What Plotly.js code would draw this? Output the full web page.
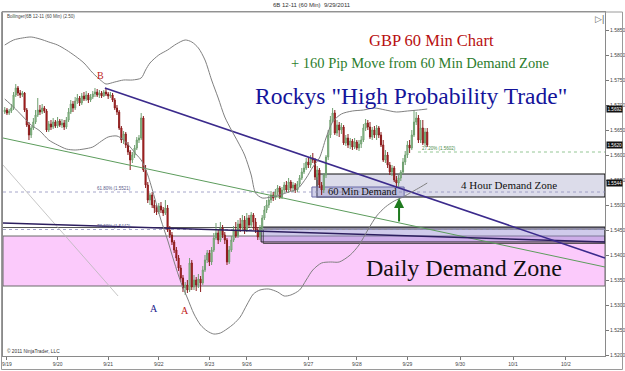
<!DOCTYPE html>
<html><head><meta charset="utf-8">
<script src="https://cdn.plot.ly/plotly-3.0.1.min.js"></script>
<style>html,body{margin:0;padding:0;background:#fff;overflow:hidden}#chart{width:625px;height:371px}</style>
</head><body><div id="chart"></div>
<script>
// ---- candle data (60 min bars, GB 12-11) ----
const open = [
1.5686,1.5690,1.5684,1.5688,1.5694,1.5720,1.5734,1.5724,1.5720,1.5724,
1.5690,1.5660,1.5640,1.5654,1.5666,1.5680,1.5690,1.5686,1.5694,1.5688,
1.5650,1.5662,1.5656,1.5666,1.5658,1.5668,1.5660,1.5664,1.5656,1.5670,
1.5686,1.5702,1.5694,1.5708,1.5714,1.5704,1.5718,1.5712,1.5720,1.5710,
1.5716,1.5722,1.5726,1.5720,1.5724,1.5718,1.5726,1.5722,1.5718,1.5720,
1.5710,1.5694,1.5686,1.5654,1.5630,1.5642,1.5620,1.5606,1.5590,1.5600,
1.5614,1.5630,1.5634,1.5674,1.5570,1.5540,1.5510,1.5520,1.5500,1.5494,
1.5486,1.5498,1.5490,1.5484,1.5494,1.5450,1.5440,1.5426,1.5410,1.5394,
1.5374,1.5354,1.5334,1.5340,1.5330,1.5384,1.5336,1.5350,1.5340,1.5352,
1.5344,1.5370,1.5390,1.5404,1.5386,1.5410,1.5434,1.5444,1.5430,1.5454,
1.5440,1.5430,1.5386,1.5410,1.5430,1.5450,1.5438,1.5462,1.5454,1.5470,
1.5450,1.5474,1.5460,1.5480,1.5466,1.5450,1.5436,1.5454,1.5474,1.5490,
1.5500,1.5510,1.5520,1.5514,1.5526,1.5534,1.5516,1.5530,1.5540,1.5530,
1.5546,1.5534,1.5540,1.5530,1.5542,1.5554,1.5566,1.5574,1.5586,1.5580,
1.5594,1.5590,1.5556,1.5570,1.5540,1.5530,1.5560,1.5596,1.5640,1.5670,
1.5684,1.5644,1.5660,1.5650,1.5656,1.5624,1.5634,1.5620,1.5628,1.5616,
1.5626,1.5614,1.5622,1.5630,1.5654,1.5664,1.5656,1.5636,1.5650,1.5640,
1.5654,1.5640,1.5620,1.5590,1.5600,1.5580,1.5566,1.5574,1.5550,1.5544,
1.5554,1.5566,1.5586,1.5600,1.5620,1.5614,1.5640,1.5666,1.5674,1.5630,
1.5654,1.5624,1.5646];
const high = [
1.5696,1.5694,1.5692,1.5702,1.5726,1.5742,1.5738,1.5730,1.5728,1.5726,
1.5694,1.5666,1.5658,1.5674,1.5690,1.5714,1.5700,1.5702,1.5698,1.5692,
1.5668,1.5670,1.5674,1.5670,1.5676,1.5672,1.5672,1.5670,1.5676,1.5694,
1.5710,1.5708,1.5716,1.5722,1.5718,1.5724,1.5726,1.5728,1.5724,1.5722,
1.5728,1.5734,1.5732,1.5730,1.5728,1.5730,1.5734,1.5726,1.5726,1.5724,
1.5714,1.5700,1.5690,1.5658,1.5648,1.5646,1.5626,1.5610,1.5606,1.5620,
1.5636,1.5640,1.5684,1.5678,1.5580,1.5546,1.5524,1.5526,1.5510,1.5500,
1.5504,1.5506,1.5496,1.5510,1.5500,1.5458,1.5446,1.5430,1.5416,1.5400,
1.5380,1.5360,1.5346,1.5350,1.5394,1.5390,1.5360,1.5356,1.5362,1.5358,
1.5378,1.5400,1.5410,1.5410,1.5416,1.5444,1.5464,1.5450,1.5466,1.5460,
1.5446,1.5434,1.5418,1.5438,1.5458,1.5466,1.5470,1.5474,1.5480,1.5478,
1.5484,1.5480,1.5486,1.5484,1.5474,1.5456,1.5460,1.5480,1.5498,1.5510,
1.5518,1.5528,1.5526,1.5532,1.5540,1.5538,1.5536,1.5546,1.5548,1.5554,
1.5550,1.5546,1.5544,1.5548,1.5560,1.5574,1.5584,1.5594,1.5596,1.5600,
1.5604,1.5594,1.5578,1.5574,1.5546,1.5564,1.5600,1.5650,1.5678,1.5694,
1.5690,1.5670,1.5666,1.5664,1.5660,1.5640,1.5642,1.5634,1.5632,1.5634,
1.5630,1.5630,1.5638,1.5662,1.5672,1.5670,1.5666,1.5656,1.5658,1.5660,
1.5658,1.5646,1.5630,1.5610,1.5606,1.5586,1.5580,1.5578,1.5558,1.5560,
1.5570,1.5594,1.5608,1.5628,1.5630,1.5650,1.5690,1.5686,1.5680,1.5670,
1.5670,1.5654,1.5654];
const low = [
1.5682,1.5680,1.5680,1.5684,1.5690,1.5716,1.5718,1.5714,1.5716,1.5686,
1.5656,1.5630,1.5634,1.5650,1.5662,1.5676,1.5680,1.5682,1.5684,1.5646,
1.5646,1.5650,1.5652,1.5654,1.5654,1.5656,1.5654,1.5650,1.5652,1.5666,
1.5682,1.5686,1.5690,1.5702,1.5698,1.5700,1.5708,1.5708,1.5704,1.5706,
1.5712,1.5716,1.5716,1.5714,1.5714,1.5716,1.5718,1.5712,1.5714,1.5706,
1.5690,1.5680,1.5650,1.5624,1.5622,1.5614,1.5600,1.5570,1.5584,1.5594,
1.5610,1.5624,1.5630,1.5566,1.5534,1.5504,1.5500,1.5494,1.5484,1.5480,
1.5482,1.5484,1.5478,1.5480,1.5446,1.5434,1.5420,1.5404,1.5388,1.5368,
1.5346,1.5326,1.5320,1.5324,1.5326,1.5330,1.5330,1.5328,1.5334,1.5326,
1.5340,1.5366,1.5384,1.5378,1.5380,1.5406,1.5430,1.5422,1.5426,1.5434,
1.5422,1.5380,1.5382,1.5406,1.5426,1.5434,1.5434,1.5446,1.5450,1.5442,
1.5446,1.5454,1.5454,1.5450,1.5444,1.5430,1.5430,1.5446,1.5470,1.5484,
1.5494,1.5504,1.5508,1.5510,1.5520,1.5512,1.5512,1.5524,1.5526,1.5524,
1.5528,1.5526,1.5524,1.5526,1.5536,1.5550,1.5562,1.5570,1.5574,1.5574,
1.5584,1.5550,1.5550,1.5534,1.5520,1.5524,1.5554,1.5590,1.5634,1.5666,
1.5640,1.5638,1.5636,1.5642,1.5620,1.5618,1.5614,1.5612,1.5610,1.5612,
1.5610,1.5608,1.5614,1.5626,1.5648,1.5650,1.5632,1.5630,1.5634,1.5630,
1.5634,1.5616,1.5586,1.5584,1.5574,1.5560,1.5558,1.5546,1.5534,1.5536,
1.5548,1.5562,1.5580,1.5594,1.5604,1.5610,1.5636,1.5660,1.5624,1.5624,
1.5620,1.5618,1.5616];
const close = [
1.5690,1.5684,1.5688,1.5694,1.5720,1.5734,1.5724,1.5720,1.5724,1.5690,
1.5660,1.5640,1.5654,1.5666,1.5680,1.5690,1.5686,1.5694,1.5688,1.5650,
1.5662,1.5656,1.5666,1.5658,1.5668,1.5660,1.5664,1.5656,1.5670,1.5686,
1.5702,1.5694,1.5708,1.5714,1.5704,1.5718,1.5712,1.5720,1.5710,1.5716,
1.5722,1.5726,1.5720,1.5724,1.5718,1.5726,1.5722,1.5718,1.5720,1.5710,
1.5694,1.5686,1.5654,1.5630,1.5642,1.5620,1.5606,1.5590,1.5600,1.5614,
1.5630,1.5634,1.5674,1.5570,1.5540,1.5510,1.5520,1.5500,1.5494,1.5486,
1.5498,1.5490,1.5484,1.5494,1.5450,1.5440,1.5426,1.5410,1.5394,1.5374,
1.5354,1.5334,1.5340,1.5330,1.5384,1.5336,1.5350,1.5340,1.5352,1.5344,
1.5370,1.5390,1.5404,1.5386,1.5410,1.5434,1.5444,1.5430,1.5454,1.5440,
1.5430,1.5386,1.5410,1.5430,1.5450,1.5438,1.5462,1.5454,1.5470,1.5450,
1.5474,1.5460,1.5480,1.5466,1.5450,1.5436,1.5454,1.5474,1.5490,1.5500,
1.5510,1.5520,1.5514,1.5526,1.5534,1.5516,1.5530,1.5540,1.5530,1.5546,
1.5534,1.5540,1.5530,1.5542,1.5554,1.5566,1.5574,1.5586,1.5580,1.5594,
1.5590,1.5556,1.5570,1.5540,1.5530,1.5560,1.5596,1.5640,1.5670,1.5684,
1.5644,1.5660,1.5650,1.5656,1.5624,1.5634,1.5620,1.5628,1.5616,1.5626,
1.5614,1.5622,1.5630,1.5654,1.5664,1.5656,1.5636,1.5650,1.5640,1.5654,
1.5640,1.5620,1.5590,1.5600,1.5580,1.5566,1.5574,1.5550,1.5544,1.5554,
1.5566,1.5586,1.5600,1.5620,1.5614,1.5640,1.5666,1.5674,1.5630,1.5654,
1.5624,1.5646,1.5620];
const firstBar = -1;
const barIndex = close.map((_, i) => i + firstBar);

// ---- Bollinger (2.50) bands, read at selected bars ----
const upperBars = [-1,3,7,11,15,19,23,27,31,35,39,43,45,49,53,57,61,63,65,69,73,77,81,84,87,90,93,96,99,102,105,108,111,113,116,120,124,128,132,136,139,142,145,148,152,157,162,167,172,177,182,187,191];
const upperBand = [1.5820,1.5830,1.5834,1.5836,1.5832,1.5826,1.5820,1.5810,1.5798,1.5784,1.5764,1.5748,1.5742,1.5746,1.5750,1.5750,1.5754,1.5770,1.5784,1.5800,1.5810,1.5822,1.5830,1.5826,1.5814,1.5790,1.5750,1.5714,1.5676,1.5650,1.5626,1.5600,1.5560,1.5524,1.5514,1.5516,1.5520,1.5526,1.5532,1.5554,1.5576,1.5594,1.5634,1.5666,1.5682,1.5688,1.5690,1.5694,1.5690,1.5686,1.5688,1.5690,1.5692];
const lowerBars = [-1,3,7,11,15,19,23,27,31,35,39,43,46,50,53,56,59,61,64,67,70,73,76,79,82,85,88,91,94,97,100,103,106,109,112,115,119,123,126,129,133,136,139,143,147,151,156,160,164,168,172,176,180,184,188,191];
const lowerBand = [1.5712,1.5696,1.5678,1.5660,1.5648,1.5630,1.5620,1.5612,1.5610,1.5612,1.5616,1.5628,1.5636,1.5638,1.5630,1.5616,1.5600,1.5590,1.5560,1.5516,1.5470,1.5430,1.5386,1.5346,1.5314,1.5282,1.5260,1.5248,1.5242,1.5244,1.5252,1.5262,1.5276,1.5300,1.5322,1.5330,1.5332,1.5326,1.5318,1.5320,1.5330,1.5350,1.5370,1.5384,1.5386,1.5386,1.5400,1.5420,1.5450,1.5478,1.5496,1.5508,1.5516,1.5526,1.5536,1.5544];

// ---- axes ----
const xRange = [-1.8, 271.8];
const yRange = [1.5198, 1.5886];
const dateTickBars = [0,23,46,69,92,109,137,159,182,206,230,254];
const dateTickLabels = ['9/19','9/20','9/21','9/22','9/23','9/26','9/27','9/28','9/29','9/30','10/1','10/2'];
const priceTicks = [1.5200,1.5250,1.5300,1.5350,1.5400,1.5450,1.5500,1.5550,1.5600,1.5650,1.5700,1.5750,1.5800,1.5850];

// ---- drawings ----
const purpleLineX = [44.5, 271.8], purpleLineY = [1.5734, 1.5394];
const greenLineX = [-1.8, 271.8], greenLineY = [1.5634, 1.5376];
const navyLineX = [-1.8, 271.8], navyLineY = [1.5464, 1.5426];
const grayDiagX = [-1.8, 50.5], grayDiagY = [1.5580, 1.5318];
const dailyZone = [1.5338, 1.5438];
const hour4ZoneX = [140.9, 271.8], hour4ZoneY = [1.5516, 1.5562];
const min60BoxX = [138.6, 180.5], min60BoxY = [1.5516, 1.5536];
const min60LowX = [115.5, 271.8], min60LowY = [1.5426, 1.5456];
const levelLine = 1.5455;
const fibLevels = [1.5606, 1.5526, 1.5451];
const fibLabels = ['27.20% (1.5602)', '61.80% (1.5521)', '78.60% (1.5443)'];
const fibStartBar = [186.8, -1.8, -1.8];
const arrowBar = 178.2, arrowFrom = 1.5464, arrowTo = 1.5514;

const PX = p => (p - 3) / 602;
const PY = p => (356 - p) / 344;
const serif = 'Liberation Serif, Times New Roman, serif';
const sans = 'Liberation Sans, Arial, sans-serif';

const traces = [
  {type:'scatter', mode:'lines', x:grayDiagX, y:grayDiagY, line:{color:'#b8b8b8', width:0.8}, hoverinfo:'skip'},
  {type:'scatter', mode:'lines', x:greenLineX, y:greenLineY, line:{color:'#5c9c5c', width:1}, hoverinfo:'skip'},
  {type:'scatter', mode:'lines', x:navyLineX, y:navyLineY, line:{color:'#2c1e5e', width:1.5}, hoverinfo:'skip'},
  {type:'scatter', mode:'lines', x:purpleLineX, y:purpleLineY, line:{color:'#3b2a8c', width:1.6}, hoverinfo:'skip'},
  {type:'scatter', mode:'lines', x:upperBars, y:upperBand, line:{color:'#808080', width:1, shape:'spline', smoothing:0.8}, hoverinfo:'skip'},
  {type:'scatter', mode:'lines', x:lowerBars, y:lowerBand, line:{color:'#808080', width:1, shape:'spline', smoothing:0.8}, hoverinfo:'skip'},
  {type:'candlestick', x:barIndex, open:open, high:high, low:low, close:close,
   increasing:{line:{color:'#6f9f6f', width:1}, fillcolor:'#a6dca6'},
   decreasing:{line:{color:'#8a1c1c', width:1}, fillcolor:'#cc1a1a'},
   whiskerwidth:0, hoverinfo:'skip'}
];

const shapes = [
  {type:'rect', xref:'paper', yref:'y', x0:0, x1:1, y0:dailyZone[0], y1:dailyZone[1], fillcolor:'#fbcafb', line:{color:'#6a6a6a', width:1}, layer:'below'},
  {type:'rect', xref:'x', yref:'y', x0:min60LowX[0], x1:min60LowX[1], y0:min60LowY[0], y1:min60LowY[1], fillcolor:'rgba(150,140,210,0.45)', line:{color:'#222', width:1}, layer:'below'},
  {type:'rect', xref:'x', yref:'y', x0:min60LowX[0]+1, x1:min60LowX[1], y0:min60LowY[0]-0.0003, y1:min60LowY[1]-0.0004, fillcolor:'rgba(0,0,0,0)', line:{color:'#333', width:0.8}, layer:'below'},
  {type:'rect', xref:'x', yref:'y', x0:hour4ZoneX[0], x1:hour4ZoneX[1], y0:hour4ZoneY[0], y1:hour4ZoneY[1], fillcolor:'#dcdcea', line:{color:'#111', width:1.2}, layer:'below'},
  {type:'rect', xref:'x', yref:'y', x0:min60BoxX[0], x1:min60BoxX[1], y0:min60BoxY[0], y1:min60BoxY[1], fillcolor:'rgba(150,150,205,0.45)', line:{color:'#6a6aa8', width:1}, layer:'below'},
  {type:'line', xref:'paper', yref:'y', x0:0, x1:1, y0:levelLine, y1:levelLine, line:{color:'#555', width:1}, layer:'below'},
  // outer frame
  {type:'rect', xref:'paper', yref:'paper', x0:PX(1.5), x1:PX(622.5), y0:PY(369.5), y1:PY(12), line:{color:'#9a9a9a', width:1}, fillcolor:'rgba(0,0,0,0)'}
];
fibLevels.forEach((v, k) => {
  shapes.push({type:'line', xref:'x', yref:'y', x0:fibStartBar[k], x1:xRange[1], y0:v, y1:v,
    line:{color: k === 0 ? '#7ab87a' : '#9090bc', width:0.8, dash:'dot'}, layer:'below'});
});

const ann = [];
const txt = (text, px, py, size, color, family, extra) => ann.push(Object.assign({text, xref:'paper', yref:'paper', x:PX(px), y:PY(py), showarrow:false, font:{size, color, family}, xanchor:'center', yanchor:'middle'}, extra || {}));
txt('6B 12-11 (60 Min)  9/29/2011', 312, 5, 6, '#333', sans);
txt('Bollinger(6B 12-11 (60 Min) (2.50)', 5, 16, 4.5, '#444', sans, {xanchor:'left'});
txt('▷|', 599, 19, 9, '#666', sans);
txt('© 2011 NinjaTrader, LLC', 5, 351, 4.8, '#333', sans, {xanchor:'left'});
txt('GBP 60 Min Chart', 431, 40, 16.5, '#b80f0f', serif);
txt('+ 160 Pip Move from 60 Min Demand Zone', 420, 63, 14.5, '#2d7d2d', serif);
txt('Rockys "High Probability Trade"', 411, 96, 23.5, '#14149a', serif);
txt('Daily Demand Zone', 464, 268, 24, '#111', serif);
txt('4 Hour Demand Zone', 509, 185, 11, '#111', serif);
txt('60 Min Demand', 363, 191, 10.5, '#111', serif);
txt('B', 100, 75, 10, '#c02020', serif);
txt('A', 154, 308, 10, '#1a1a8a', serif);
txt('A', 185, 310, 10, '#c02020', serif);
fibLabels.forEach((t, k) => ann.push({text:t, xref:'x', yref:'y', x: k === 0 ? fibStartBar[0] + 1 : 40, y:fibLevels[k], showarrow:false, xanchor:'left', yanchor:'bottom', yshift:-1, font:{size:4.5, color: k === 0 ? '#4a8a4a' : '#5a5a8a', family:sans}}));
// arrow
ann.push({x:arrowBar, y:arrowTo, ax:arrowBar, ay:arrowFrom, xref:'x', yref:'y', axref:'x', ayref:'y', text:'', showarrow:true, arrowhead:2, arrowsize:1, arrowwidth:2, arrowcolor:'#1f7a1f'});
// right-axis price tags
[upperBand[upperBand.length-1], close[close.length-1], lowerBand[lowerBand.length-1]].forEach(v => ann.push({
  text:v.toFixed(4), xref:'paper', yref:'y', x:1.002, y:v, xanchor:'left', yanchor:'middle', showarrow:false,
  bgcolor:'#111', borderpad:0.5, font:{size:4.6, color:'#fff', family:sans}}));

const layout = {
  width:625, height:371, margin:{l:3, r:20, t:12, b:15},
  paper_bgcolor:'#fff', plot_bgcolor:'#fff', showlegend:false,
  xaxis:{range:xRange, tickmode:'array', tickvals:dateTickBars, ticktext:dateTickLabels, ticks:'outside', ticklen:3, tickcolor:'#777',
    tickfont:{size:5, color:'#444', family:sans}, showgrid:false, zeroline:false, showline:true, linecolor:'#8a8a8a', mirror:true, rangeslider:{visible:false}, fixedrange:true},
  yaxis:{range:yRange, side:'right', tickmode:'array', tickvals:priceTicks, ticktext:priceTicks.map(v => v.toFixed(4)), ticks:'outside', ticklen:3, tickcolor:'#777',
    tickfont:{size:5, color:'#444', family:sans}, showgrid:false, zeroline:false, showline:true, linecolor:'#8a8a8a', mirror:true, fixedrange:true},
  shapes:shapes, annotations:ann
};
Plotly.newPlot('chart', traces, layout, {displayModeBar:false, staticPlot:true});
</script></body></html>
